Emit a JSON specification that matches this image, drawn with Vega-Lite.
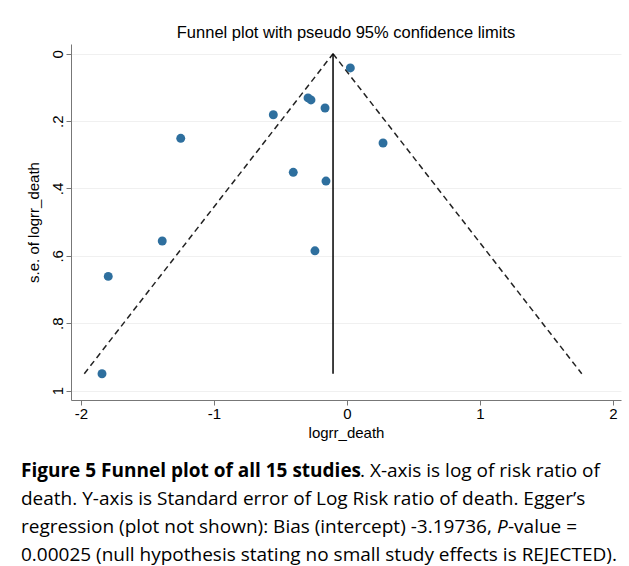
{
  "$schema": "https://vega.github.io/schema/vega-lite/v6.json",
  "background": "white",
  "padding": {"left": 21, "top": 24, "right": 0, "bottom": 0},
  "spacing": 21,
  "config": {
    "view": {"stroke": null},
    "font": "Liberation Sans"
  },
  "datasets": {
    "studies": [
      {"logrr_death": 0.025, "se": 0.042},
      {"logrr_death": -0.293, "se": 0.131},
      {"logrr_death": -0.271, "se": 0.137},
      {"logrr_death": -0.165, "se": 0.161},
      {"logrr_death": -0.554, "se": 0.181},
      {"logrr_death": -1.25, "se": 0.251},
      {"logrr_death": 0.271, "se": 0.265},
      {"logrr_death": -0.404, "se": 0.352},
      {"logrr_death": -0.158, "se": 0.378},
      {"logrr_death": -1.389, "se": 0.556},
      {"logrr_death": -0.241, "se": 0.585},
      {"logrr_death": -1.795, "se": 0.661},
      {"logrr_death": -1.842, "se": 0.95}
    ],
    "limits": [
      {"limit": "lower", "logrr_death": -0.105, "se": 0},
      {"limit": "lower", "logrr_death": -1.975, "se": 0.95},
      {"limit": "upper", "logrr_death": -0.105, "se": 0},
      {"limit": "upper", "logrr_death": 1.765, "se": 0.95}
    ],
    "pooled": [
      {"logrr_death": -0.105, "se_top": 0, "se_bottom": 0.95}
    ],
    "caption": [
      {"line": 1, "seg": "heading", "text": "Figure 5 Funnel plot of all 15 studies"},
      {"line": 1, "seg": "tail", "text": ". X-axis is log of risk ratio of"},
      {"line": 2, "seg": "body", "text": "death. Y-axis is Standard error of Log Risk ratio of death. Egger’s"},
      {"line": 3, "seg": "body", "text": "regression (plot not shown): Bias (intercept) -3.19736,"},
      {"line": 3, "seg": "italic", "text": "P"},
      {"line": 3, "seg": "after", "text": "-value ="},
      {"line": 4, "seg": "body", "text": "0.00025 (null hypothesis stating no small study effects is REJECTED)."}
    ]
  },
  "vconcat": [
    {
      "width": 550,
      "height": 356,
      "title": {
        "text": "Funnel plot with pseudo 95% confidence limits",
        "font": "Liberation Sans",
        "fontSize": 16.5,
        "fontWeight": "normal",
        "color": "#000000",
        "anchor": "middle",
        "offset": 3
      },
      "encoding": {
        "x": {
          "field": "logrr_death",
          "type": "quantitative",
          "scale": {"domain": [-2.075, 2.06], "nice": false, "zero": false},
          "axis": {
            "values": [-2, -1, 0, 1, 2],
            "labelExpr": "'' + datum.value",
            "title": "logrr_death",
            "grid": false,
            "labelFont": "Liberation Sans",
            "labelFontSize": 15,
            "labelColor": "#000000",
            "labelPadding": 1,
            "titleFont": "Liberation Sans",
            "titleFontSize": 15,
            "titleFontWeight": "normal",
            "titleColor": "#000000",
            "titlePadding": 4,
            "domainColor": "#777777",
            "tickColor": "#777777",
            "tickSize": 5
          }
        },
        "y": {
          "field": "se",
          "type": "quantitative",
          "scale": {"domain": [-0.029, 1.028], "nice": false, "zero": false, "reverse": true},
          "axis": {
            "values": [0, 0.2, 0.4, 0.6, 0.8, 1],
            "labelExpr": "datum.value == 0 ? '0' : (datum.value == 1 ? '1' : replace(format(datum.value, '.1f'), '0.', '.'))",
            "title": "s.e. of logrr_death",
            "grid": true,
            "gridColor": "#f0f0f0",
            "labelAngle": -90,
            "labelAlign": "center",
            "labelBaseline": "bottom",
            "labelFont": "Liberation Sans",
            "labelFontSize": 15,
            "labelColor": "#000000",
            "labelPadding": 1,
            "titleFont": "Liberation Sans",
            "titleFontSize": 15,
            "titleFontWeight": "normal",
            "titleColor": "#000000",
            "titlePadding": 9,
            "domainColor": "#777777",
            "tickColor": "#777777",
            "tickSize": 5
          }
        }
      },
      "layer": [
        {
          "data": {"name": "limits"},
          "mark": {"type": "line", "color": "#222222", "strokeWidth": 1.5, "strokeDash": [6, 4]},
          "encoding": {"detail": {"field": "limit"}}
        },
        {
          "data": {"name": "pooled"},
          "mark": {"type": "rule", "color": "#000000", "strokeWidth": 1.5},
          "encoding": {
            "y": {"field": "se_top", "type": "quantitative"},
            "y2": {"field": "se_bottom"}
          }
        },
        {
          "data": {"name": "studies"},
          "mark": {"type": "point", "filled": true, "size": 80, "color": "#2e6f9e", "opacity": 1}
        }
      ]
    },
    {
      "width": 560,
      "height": 104,
      "data": {"name": "caption"},
      "encoding": {
        "x": {"datum": 0, "type": "quantitative", "scale": {"domain": [0, 1]}, "axis": null},
        "y": {"field": "line", "type": "ordinal", "scale": {"type": "point", "padding": 0.357}, "axis": null},
        "text": {"field": "text"}
      },
      "layer": [
        {
          "transform": [{"filter": "datum.seg == 'heading'"}],
          "mark": {"type": "text", "align": "left", "baseline": "middle", "font": "Open Sans", "fontSize": 19, "fontWeight": "bold", "color": "#000000", "dx": -50}
        },
        {
          "transform": [{"filter": "datum.seg == 'tail'"}],
          "mark": {"type": "text", "align": "left", "baseline": "middle", "font": "Open Sans", "fontSize": 19, "color": "#000000", "dx": 289}
        },
        {
          "transform": [{"filter": "datum.seg == 'body'"}],
          "mark": {"type": "text", "align": "left", "baseline": "middle", "font": "Open Sans", "fontSize": 19, "color": "#000000", "dx": -50}
        },
        {
          "transform": [{"filter": "datum.seg == 'italic'"}],
          "mark": {"type": "text", "align": "left", "baseline": "middle", "font": "Open Sans", "fontSize": 19, "fontStyle": "italic", "color": "#000000", "dx": 426}
        },
        {
          "transform": [{"filter": "datum.seg == 'after'"}],
          "mark": {"type": "text", "align": "left", "baseline": "middle", "font": "Open Sans", "fontSize": 19, "color": "#000000", "dx": 437}
        }
      ]
    }
  ]
}
